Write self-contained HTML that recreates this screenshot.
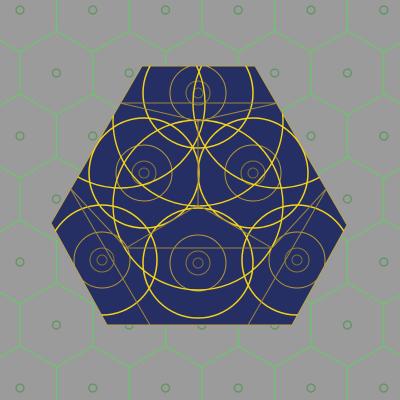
<!DOCTYPE html>
<html><head><meta charset="utf-8"><style>html,body{margin:0;padding:0;background:#9b9b9b;width:400px;height:400px;overflow:hidden}svg{display:block}</style></head>
<body>
<svg width="400" height="400" viewBox="0 0 400 400">
<defs>
<pattern id="hex" width="72.75" height="126" patternUnits="userSpaceOnUse" patternTransform="translate(20,10)">
<path d="M72.75,84 L36.4,105 L0,84 L0,42 L36.4,21 L72.75,42 Z M36.4,105 L36.4,126 M36.4,0 L36.4,21" fill="none" stroke="#5fd05f" stroke-width="1"/>
<g fill="none" stroke="#5a945a" stroke-width="1.2"><circle cx="36.4" cy="63" r="4"/><circle cx="0" cy="0" r="4"/><circle cx="72.75" cy="0" r="4"/><circle cx="0" cy="126" r="4"/><circle cx="72.75" cy="126" r="4"/></g>
</pattern>
<clipPath id="cp"><polygon points="142,66 255,66 347,225 292,325 107,325 51,223"/></clipPath>
</defs>
<rect width="400" height="400" fill="#9b9b9b"/>
<rect width="400" height="400" fill="url(#hex)"/>
<polygon points="142,66 255,66 347,225 292,325 107,325 51,223" fill="#262f63" stroke="#b9a44a" stroke-width="1"/>
<g clip-path="url(#cp)" fill="none" id="art"></g>
<script>
const ns='http://www.w3.org/2000/svg';
const art=document.getElementById('art');
const Y='#f2d21a';
const centers=[[198,93],[144,173],[253,173],[198,263],[102,260],[297,260]];
function circ(x,y,r,col,w){const c=document.createElementNS(ns,'circle');c.setAttribute('cx',x);c.setAttribute('cy',y);c.setAttribute('r',r);c.setAttribute('stroke',col);c.setAttribute('stroke-width',w);


art.appendChild(c);}
function line(a,b,col,w){const l=document.createElementNS(ns,'line');l.setAttribute('x1',a[0]);l.setAttribute('y1',a[1]);l.setAttribute('x2',b[0]);l.setAttribute('y2',b[1]);l.setAttribute('stroke',col);l.setAttribute('stroke-width',w);


art.appendChild(l);}
centers.forEach(c=>{circ(c[0],c[1],55,Y,1.5);circ(c[0],c[1],28,'#b79b33',1);circ(c[0],c[1],12,'#8e7a3a',1);circ(c[0],c[1],5,'#7d6c3c',1);});
[[120,103],[278,103],[198,205],[198,121]].forEach(c=>circ(c[0],c[1],85,Y,1.4));
line([120,103],[278,103],'#9b8640',1);line([198,121],[198,205],'#9b8640',1);
line([120,103],[198,121],'#9b8640',1);line([278,103],[198,121],'#9b8640',1);
line([126,248],[272,248],'#9b8640',1);line([126,248],[198,205],'#9b8640',1);line([272,248],[198,205],'#9b8640',1);
line([70,188],[126,248],'#9b8640',1);line([70,188],[150,325],'#9b8640',1);line([327,188],[248,325],'#9b8640',1);line([327,188],[272,248],'#9b8640',1);
</script>
</svg>
</body></html>
